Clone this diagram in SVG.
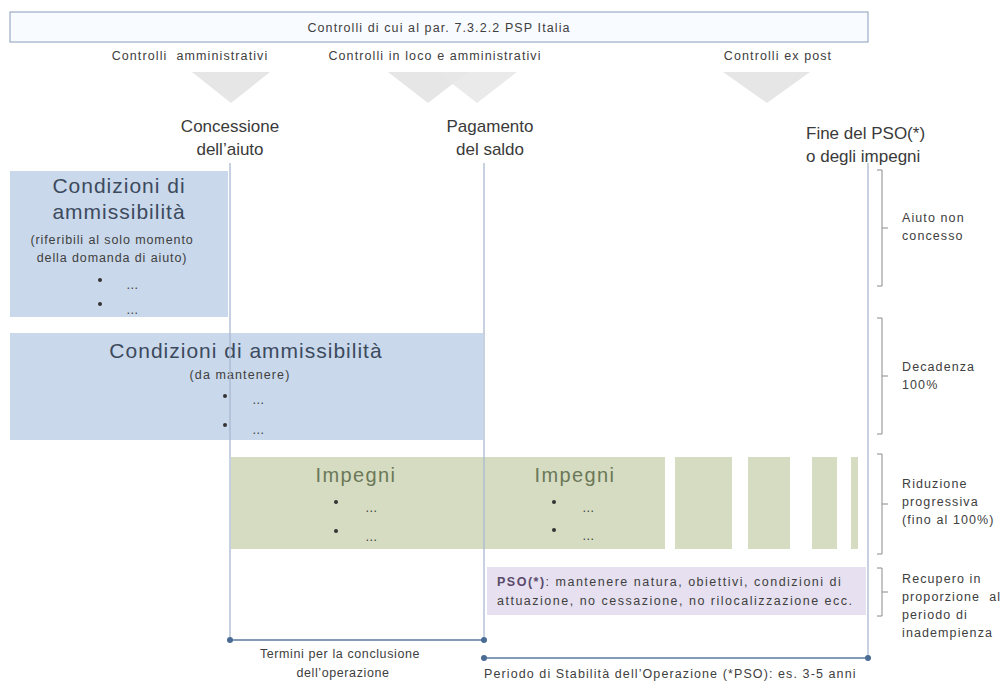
<svg xmlns="http://www.w3.org/2000/svg" width="1003" height="683" viewBox="0 0 1003 683">
<style>
text{font-family:"Liberation Sans",Arial,sans-serif;fill:#404040}
.s{font-size:12.5px;letter-spacing:1.1px}
.m{font-size:17px;fill:#3a3a3a}
.t{font-size:21px;letter-spacing:1px;fill:#3c4a5e}
.g{font-size:20px;letter-spacing:1.4px;fill:#6b7858}
.v{stroke:#a9b9cf;stroke-width:1.3;fill:none}
.br{stroke:#8a8a8a;stroke-width:1;fill:none}
.blue{fill:#c9d8ea}
.green{fill:#d5dcc1}
.tri{fill:#e6e6e6}
.dot{fill:#4a6c94}
.tl{stroke:#5b7aa0;stroke-width:1.3}
</style>
<rect width="1003" height="683" fill="#ffffff"/>

<g id="header">
<rect x="10" y="12" width="858" height="30" fill="#f8fbff" stroke="#8a9cb8" stroke-width="1"/>
<text class="s" x="439" y="32" text-anchor="middle">Controlli di cui al par. 7.3.2.2 PSP Italia</text>
</g>

<g id="controls">
<text class="s" x="190" y="60" text-anchor="middle" xml:space="preserve">Controlli  amministrativi</text>
<text class="s" x="435" y="60" text-anchor="middle">Controlli in loco e amministrativi</text>
<text class="s" x="778" y="60" text-anchor="middle">Controlli ex post</text>
<polygon class="tri" points="192,72 270,72 231,103"/>
<polygon class="tri" points="388,72 468,72 428,103"/>
<polygon class="tri" points="437,72 517,72 477,103" opacity="0.85"/>
<polygon class="tri" points="723,72 810,72 767,103"/>
</g>

<g id="milestones">
<text class="m" x="230" y="132" text-anchor="middle">Concessione</text>
<text class="m" x="230" y="155" text-anchor="middle">dell’aiuto</text>
<text class="m" x="490" y="132" text-anchor="middle">Pagamento</text>
<text class="m" x="490" y="155" text-anchor="middle">del saldo</text>
<text class="m" x="806" y="139">Fine del PSO(*)</text>
<text class="m" x="806" y="162">o degli impegni</text>
</g>

<g id="box-ammissibilita-1">
<rect class="blue" x="10" y="171" width="218" height="146"/>
<text class="t" x="119" y="193" text-anchor="middle">Condizioni di</text>
<text class="t" x="119" y="219" text-anchor="middle">ammissibilità</text>
<text class="s" x="112" y="244" text-anchor="middle" style="letter-spacing:0.9px">(riferibili al solo momento</text>
<text class="s" x="112" y="262" text-anchor="middle" style="letter-spacing:0.9px">della domanda di aiuto)</text>
<circle cx="100" cy="280" r="2" fill="#333"/>
<text class="s" x="126" y="289">…</text>
<circle cx="100" cy="304" r="2" fill="#333"/>
<text class="s" x="126" y="314">…</text>
</g>

<g id="box-ammissibilita-2">
<rect class="blue" x="10" y="333" width="473" height="107"/>
<text class="t" x="246" y="358" text-anchor="middle">Condizioni di ammissibilità</text>
<text class="s" x="240" y="379" text-anchor="middle">(da mantenere)</text>
<circle cx="225" cy="396" r="2" fill="#333"/>
<text class="s" x="252" y="404">…</text>
<circle cx="225" cy="425" r="2" fill="#333"/>
<text class="s" x="252" y="434">…</text>
</g>

<g id="box-impegni">
<rect class="green" x="231" y="457" width="434" height="92"/>
<rect class="green" x="675" y="457" width="57" height="92"/>
<rect class="green" x="748" y="457" width="42" height="92"/>
<rect class="green" x="812" y="457" width="25" height="92"/>
<rect class="green" x="851" y="457" width="7" height="92"/>
<text class="g" x="356" y="482" text-anchor="middle">Impegni</text>
<circle cx="336" cy="502" r="2" fill="#333"/>
<text class="s" x="365" y="512">…</text>
<circle cx="336" cy="531" r="2" fill="#333"/>
<text class="s" x="365" y="541">…</text>
<text class="g" x="575" y="482" text-anchor="middle">Impegni</text>
<circle cx="554" cy="502" r="2" fill="#333"/>
<text class="s" x="582" y="512">…</text>
<circle cx="554" cy="530" r="2" fill="#333"/>
<text class="s" x="582" y="540">…</text>
</g>

<g id="box-pso">
<rect x="487" y="567" width="379" height="48" fill="#e6e0f0"/>
<text class="s" x="497" y="586" style="letter-spacing:1.5px"><tspan font-weight="bold" fill="#5a4a6a">PSO(*)</tspan>: mantenere natura, obiettivi, condizioni di</text>
<text class="s" x="497" y="605" style="letter-spacing:1.5px">attuazione, no cessazione, no rilocalizzazione ecc.</text>
</g>

<g id="connectors">
<line class="v" x1="230" y1="163" x2="230" y2="640"/>
<line class="v" x1="484" y1="163" x2="484" y2="640"/>
<line class="v" x1="868" y1="163" x2="868" y2="658"/>
<path class="br" d="M877,170 H882 V286 H877 M882,228 H888"/>
<path class="br" d="M877,318 H882 V434 H877 M882,376 H888"/>
<path class="br" d="M877,454 H882 V554 H877 M882,504 H888"/>
<path class="br" d="M877,568 H882 V616 H877 M882,592 H888"/>
<line class="tl" x1="230" y1="640" x2="484" y2="640"/>
<circle class="dot" cx="230" cy="640" r="3"/>
<circle class="dot" cx="484" cy="640" r="3"/>
<line class="tl" x1="484" y1="658" x2="868" y2="658"/>
<circle class="dot" cx="484" cy="658" r="3"/>
<circle class="dot" cx="868" cy="658" r="3"/>
</g>

<g id="right-labels">
<text class="s" x="902" y="222">Aiuto non</text>
<text class="s" x="902" y="240">concesso</text>
<text class="s" x="902" y="371">Decadenza</text>
<text class="s" x="902" y="389">100%</text>
<text class="s" x="902" y="488">Riduzione</text>
<text class="s" x="902" y="506">progressiva</text>
<text class="s" x="902" y="524">(fino al 100%)</text>
<text class="s" x="902" y="583">Recupero in</text>
<text class="s" x="902" y="601" xml:space="preserve">proporzione  al</text>
<text class="s" x="902" y="619">periodo di</text>
<text class="s" x="902" y="637">inadempienza</text>
</g>

<g id="bottom-labels">
<text class="s" x="340" y="658" text-anchor="middle" style="letter-spacing:0.6px">Termini per la conclusione</text>
<text class="s" x="343" y="677" text-anchor="middle" style="letter-spacing:0.6px">dell’operazione</text>
<text class="s" x="484" y="678">Periodo di Stabilità dell’Operazione (*PSO): es. 3-5 anni</text>
</g>
</svg>
